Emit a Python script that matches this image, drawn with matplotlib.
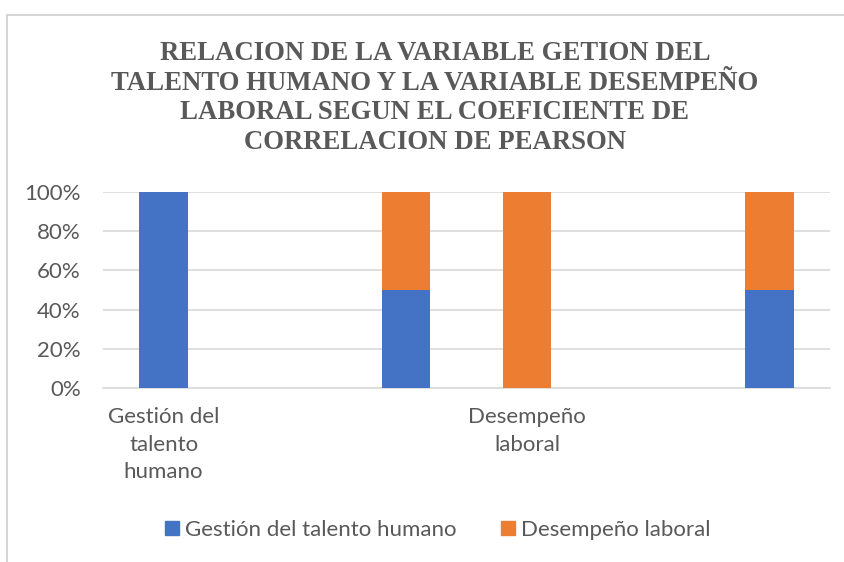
import matplotlib.pyplot as plt
from matplotlib.patches import Patch
from matplotlib.ticker import PercentFormatter
import numpy as np

# data (100% stacked columns)
categories = ["Gestión del\ntalento\nhumano", "", "", "Desempeño\nlaboral", "", ""]
gestion = [1.0, 0.0, 0.5, 0.0, 0.0, 0.5]
desempeno = [0.0, 0.0, 0.5, 1.0, 0.0, 0.5]
series_names = ["Gestión del talento humano", "Desempeño laboral"]

title = ("RELACION DE LA VARIABLE GETION DEL\n"
         "TALENTO HUMANO Y LA VARIABLE DESEMPEÑO\n"
         "LABORAL SEGUN EL COEFICIENTE DE\n"
         "CORRELACION DE PEARSON")

blue = '#4472C4'
orange = '#ED7D31'
txt = '#595959'
grid = '#D9D9D9'
sans = ['Lato', 'DejaVu Sans']

W, H = 845, 562
fig = plt.figure(figsize=(W / 100, H / 100), dpi=100)
fig.patch.set_facecolor('white')

# chart frame (left and top edge visible in the picture)
fig.add_artist(plt.Line2D([7 / W, 7 / W], [0, 1 - 15 / H], transform=fig.transFigure,
                          color='#D0D0D0', lw=1.2))
fig.add_artist(plt.Line2D([7 / W, 1], [1 - 15 / H, 1 - 15 / H], transform=fig.transFigure,
                          color='#D0D0D0', lw=1.2))

ax = fig.add_axes([103 / W, 1 - 388 / H, (830 - 103) / W, (388 - 192) / H])
x = np.arange(len(categories))
g = np.array(gestion)
d = np.array(desempeno)
ax.bar(x, g, width=0.4, color=blue, zorder=3)
ax.bar(x, d, width=0.4, bottom=g, color=orange, zorder=3)

ax.set_xlim(-0.5, len(categories) - 0.5)
ax.set_ylim(0, 1)
ax.set_yticks(np.arange(0, 1.01, 0.2))
ax.yaxis.set_major_formatter(PercentFormatter(1.0, decimals=0))
ax.set_xticks(x)
ax.set_xticklabels(categories, linespacing=1.45)
ax.grid(axis='y', color=grid, lw=1.2, zorder=0)
for s in ['top', 'right', 'left']:
    ax.spines[s].set_visible(False)
ax.spines['bottom'].set_color(grid)
ax.spines['bottom'].set_linewidth(1.2)
ax.tick_params(axis='both', length=0, colors=txt)
ax.tick_params(axis='y', pad=16)
ax.tick_params(axis='x', pad=14)
for lab in ax.get_xticklabels() + ax.get_yticklabels():
    lab.set_family(sans)
    lab.set_fontsize(16)
    lab.set_color(txt)
for lab in ax.get_xticklabels():
    lab.set_verticalalignment('top')

fig.text(435 / W, 1 - 98 / H, title, ha='center', va='center', fontsize=19.3,
         family='Liberation Serif', weight='bold', color=txt, linespacing=1.25)

handles = [Patch(color=blue, label=series_names[0]),
           Patch(color=orange, label=series_names[1])]
fig.legend(handles=handles, loc='center', bbox_to_anchor=(438 / W, 1 - 530 / H), ncol=2,
           frameon=False, prop={'family': sans, 'size': 16}, labelcolor=txt,
           handlelength=0.6, handleheight=0.6, handletextpad=0.3, columnspacing=2.0)

fig.savefig('out.png', dpi=100, facecolor='white')
